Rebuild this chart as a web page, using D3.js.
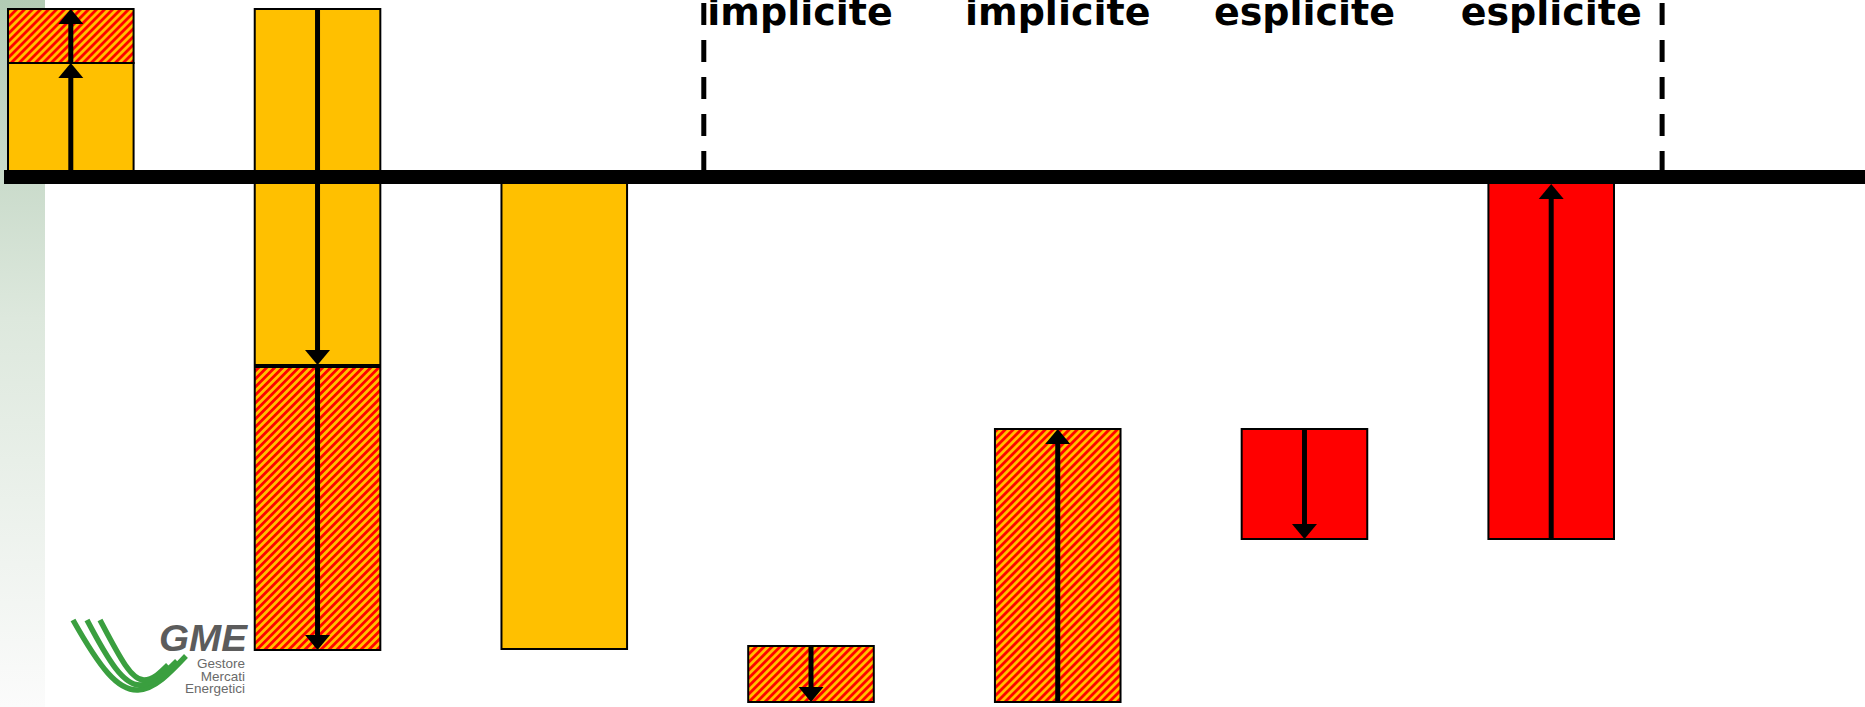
<!DOCTYPE html>
<html>
<head>
<meta charset="utf-8">
<script src="https://cdn.jsdelivr.net/npm/d3@7"></script>
<style>
  html, body { margin: 0; padding: 0; background: #ffffff; }
  svg { display: block; }
</style>
</head>
<body>
<div id="chart"></div>
<script>
// ---------- data ----------
const categories = ["A", "B", "C", "D", "E", "F", "G"];

// stacked segments: category, from, to, kind
const segCategory = ["A", "A", "B", "B", "C", "D", "E", "F", "G"];
const segFrom     = [0,   114, 168, -190,   0, -469, -525, -252,    0];
const segTo       = [114, 168, -188, -473, -472, -525, -252, -362, -362];
const segKind     = ["solid", "hatch", "solid", "hatch", "solid", "hatch", "hatch", "red", "red"];

// arrows: category, from, to
const arrowCategory = ["A", "A", "B", "B", "D", "E", "F", "G"];
const arrowFrom     = [0,   114, 168, -188, -469, -525, -252, -362];
const arrowTo       = [114, 168, -188, -473, -525, -252, -362,    0];

// top labels
const labelCategory = ["D", "E", "F", "G"];
const labelText     = ["implicite", "implicite", "esplicite", "esplicite"];

// ---------- layout ----------
const W = 1865, H = 707;
const ORANGE = "#FFC000", RED = "#FF0000";
const baseThick = 14;

const svg = d3.select("#chart").append("svg")
  .attr("width", W).attr("height", H)
  .attr("viewBox", `0 0 ${W} ${H}`);

const x = d3.scaleBand().domain(categories).range([8, 1614])
  .paddingInner(0.491).paddingOuter(0);
const y = d3.scaleLinear().domain([177, -530]).range([0, H]);

const defs = svg.append("defs");
const grad = defs.append("linearGradient").attr("id", "strip")
  .attr("x1", 0).attr("y1", 0).attr("x2", 0).attr("y2", 1);
grad.append("stop").attr("offset", "0%").attr("stop-color", "#b2cbb4");
grad.append("stop").attr("offset", "45%").attr("stop-color", "#dde8dd");
grad.append("stop").attr("offset", "100%").attr("stop-color", "#fbfbfb");

const P = 5.66;
const pat = defs.append("pattern").attr("id", "hatch")
  .attr("patternUnits", "userSpaceOnUse")
  .attr("width", P).attr("height", P)
  .attr("patternTransform", "rotate(45)");
pat.append("rect").attr("width", P).attr("height", P).attr("fill", ORANGE);
pat.append("rect").attr("width", 2.8).attr("height", P).attr("fill", RED);

// background strip
svg.append("rect").attr("x", 0).attr("y", 0).attr("width", 45).attr("height", H)
  .attr("fill", "url(#strip)");

// GME logo
const logo = svg.append("g").attr("class", "logo");
const swoosh = [
  "M73,620 C100,668 118,691 138,690 C155,689 170,673 186,656",
  "M87,620 C109,662 124,686 141,685 C154,684 165,673 177,661",
  "M100,620 C119,656 131,680 144,680 C153,680 160,673 168,665"
];
logo.selectAll("path").data(swoosh).join("path")
  .attr("d", d => d).attr("fill", "none")
  .attr("stroke", "#3a9f3f").attr("stroke-width", 5.5).attr("stroke-linecap", "butt");
logo.append("text").attr("x", 159).attr("y", 651)
  .attr("font-family", "Liberation Sans, Arial, sans-serif")
  .attr("font-weight", "bold").attr("font-style", "italic")
  .attr("font-size", 36).attr("fill", "#5c5c5c")
  .attr("textLength", 88).attr("lengthAdjust", "spacingAndGlyphs")
  .text("GME");
const sub = ["Gestore", "Mercati", "Energetici"];
logo.selectAll("text.sub").data(sub).join("text").attr("class", "sub")
  .attr("x", 245).attr("y", (d, i) => 668 + i * 12.5)
  .attr("text-anchor", "end")
  .attr("font-family", "Liberation Sans, Arial, sans-serif")
  .attr("font-size", 13.5).attr("fill", "#6a6a6a")
  .text(d => d);

// dashed separators
const step = x.step(), bw = x.bandwidth();
const dashX = [x("D") - step * 0.18, x("G") + bw + step * 0.195];
svg.selectAll("line.dash").data(dashX).join("line").attr("class", "dash")
  .attr("x1", d => d).attr("x2", d => d)
  .attr("y1", 3).attr("y2", y(0))
  .attr("stroke", "#000").attr("stroke-width", 5)
  .attr("stroke-dasharray", "22,15");

// bars
const segs = segCategory.map((c, i) => ({c, from: segFrom[i], to: segTo[i], kind: segKind[i]}));
const fillOf = k => k === "solid" ? ORANGE : k === "red" ? RED : "url(#hatch)";
svg.selectAll("rect.seg").data(segs).join("rect").attr("class", "seg")
  .attr("x", d => x(d.c))
  .attr("width", bw)
  .attr("y", d => Math.min(y(d.from), y(d.to)))
  .attr("height", d => Math.abs(y(d.from) - y(d.to)))
  .attr("fill", d => fillOf(d.kind))
  .attr("stroke", "#000").attr("stroke-width", 2);

// arrows
const arrows = arrowCategory.map((c, i) => ({c, from: arrowFrom[i], to: arrowTo[i]}));
const headH = 15, headW = 12.5;
const ag = svg.append("g").attr("class", "arrows");
arrows.forEach(a => {
  const cx = x(a.c) + bw / 2;
  const dir = a.to > a.from ? -1 : 1; // screen direction (-1 = up)
  let tip = y(a.to);
  if (a.to === 0) tip = y(0) + (dir < 0 ? baseThick / 2 : -baseThick / 2); // stop at baseline edge
  const y0 = y(a.from);
  ag.append("line")
    .attr("x1", cx).attr("x2", cx)
    .attr("y1", y0).attr("y2", tip - dir * (headH - 1))
    .attr("stroke", "#000").attr("stroke-width", 5);
  ag.append("path")
    .attr("d", `M${cx},${tip} L${cx - headW},${tip - dir * headH} L${cx + headW},${tip - dir * headH} Z`)
    .attr("fill", "#000");
});

// baseline
svg.append("line")
  .attr("x1", x.range()[0] - 4).attr("x2", W)
  .attr("y1", y(0)).attr("y2", y(0))
  .attr("stroke", "#000").attr("stroke-width", baseThick);

// top labels
svg.selectAll("text.lab").data(labelCategory.map((c, i) => ({c, t: labelText[i]})))
  .join("text").attr("class", "lab")
  .attr("x", d => x(d.c) + bw / 2)
  .attr("dx", (d, i) => i === 0 ? -11 : 0)
  .attr("y", 25)
  .attr("text-anchor", "middle")
  .attr("font-family", "DejaVu Sans, Verdana, sans-serif")
  .attr("font-weight", "bold")
  .attr("font-size", 38)
  .attr("fill", "#000")
  .text(d => d.t);
</script>
</body>
</html>
